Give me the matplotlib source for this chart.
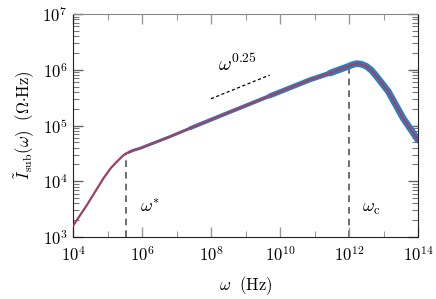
import numpy as np
import matplotlib
matplotlib.use("Agg")
import matplotlib.pyplot as plt
from matplotlib.ticker import LogLocator, NullFormatter, FixedLocator

plt.rcParams['font.family'] = 'serif'
plt.rcParams['font.serif'] = ['cmr10', 'DejaVu Serif']
plt.rcParams['mathtext.fontset'] = 'cm'
plt.rcParams['axes.formatter.use_mathtext'] = True
plt.rcParams['axes.unicode_minus'] = False

# curve (log10 values)
log_omega = [4.0, 4.20, 4.40, 4.64, 4.88, 5.10, 5.27, 5.40, 5.51, 5.62, 5.75, 5.94, 6.81, 7.39,
             8.5, 9.7, 10.87, 11.45, 11.98, 12.10, 12.22, 12.36, 12.51, 12.65, 12.80, 13.14, 13.57, 14.0]
log_I = [3.20, 3.385, 3.57, 3.81, 4.05, 4.24, 4.35, 4.43, 4.49, 4.52, 4.555, 4.59, 4.80, 4.95,
         5.23, 5.53, 5.82, 5.94, 6.06, 6.09, 6.11, 6.10, 6.06, 5.99, 5.88, 5.61, 5.13, 4.74]

omega = 10 ** np.array(log_omega)
I_sub = 10 ** np.array(log_I)

# blue scatter band: widens with frequency (start of each wider stretch, width)
band_starts = [4.0, 5.6, 7.0, 9.5, 11.3]
band_widths = [1.6, 2.2, 2.8, 3.6, 4.8]

omega_star = 3.5e5
omega_c = 1e12
guide_x = [1e8, 5e9]
guide_exp = 0.25
guide_y0 = 10 ** 5.48

fig = plt.figure(figsize=(4.36, 2.99), dpi=100)
ax = fig.add_axes([73/436, 62/299, 345/436, 223/299])
ax.set_xscale('log')
ax.set_yscale('log')
ax.set_xlim(1e4, 1e14)
ax.set_ylim(1e3, 1e7)

lo = np.array(log_omega)
for s, w in zip(band_starts, band_widths):
    m = lo >= s
    ax.plot(omega[m], I_sub[m], color='#2a7fc0', lw=w, solid_capstyle='round',
            solid_joinstyle='round', zorder=2)
ax.plot(omega, I_sub, color='#e0243c', lw=1.0, zorder=3)

# vertical dashed markers
ystar = np.interp(np.log10(omega_star), log_omega, log_I)
yc = np.interp(np.log10(omega_c), log_omega, log_I)
ax.plot([omega_star, omega_star], [1e3, 10 ** ystar], ls=(0, (4, 3)), color='#555555', lw=1.2, zorder=1)
ax.plot([omega_c, omega_c], [1e3, 10 ** yc], ls=(0, (4, 3)), color='#555555', lw=1.2, zorder=1)

# guide line
gx = np.array(guide_x)
gy = guide_y0 * (gx / gx[0]) ** guide_exp
ax.plot(gx, gy, ls=(0, (2.5, 2)), color='black', lw=0.9)

ax.text(10 ** 8.2, 10 ** 6.09, r'$\omega^{0.25}$', fontsize=14, ha='left', va='center')
ax.text(10 ** 5.95, 10 ** 3.54, r'$\omega^{*}$', fontsize=13, ha='left', va='center')
ax.text(10 ** 12.38, 10 ** 3.50, r'$\omega_{\rm c}$', fontsize=13, ha='left', va='center')

# ticks
xmaj = [10.0 ** k for k in range(4, 15, 2)]
xmin = [10.0 ** k for k in range(5, 14, 2)]
ax.xaxis.set_major_locator(FixedLocator(xmaj))
ax.xaxis.set_minor_locator(FixedLocator(xmin))
ax.xaxis.set_minor_formatter(NullFormatter())
ax.yaxis.set_major_locator(LogLocator(base=10, numticks=10))
ax.yaxis.set_minor_locator(LogLocator(base=10, subs=np.arange(2, 10), numticks=10))
ax.yaxis.set_minor_formatter(NullFormatter())
ax.tick_params(axis='both', which='both', direction='in', top=True, right=True, labelsize=12)
ax.tick_params(axis='x', which='major', length=7, width=1.0, color='#999999', pad=6)
ax.tick_params(axis='x', which='minor', length=4, width=0.8, color='#999999')
ax.tick_params(axis='y', which='major', length=7, width=1.0, color='#666666', pad=4)
ax.tick_params(axis='y', which='minor', length=4, width=0.8, color='#777777')

for s in ['left', 'bottom', 'right']:
    ax.spines[s].set_color('#222222')
ax.spines['top'].set_color('#888888')

ax.set_xlabel(r'$\omega\ \ (\mathrm{Hz})$', fontsize=12, labelpad=7)
ax.set_ylabel(r'$\tilde{I}_{\rm sub}(\omega)\ \ (\Omega{\cdot}\mathrm{Hz})$', fontsize=12, labelpad=4)

fig.savefig('out.png', dpi=100)
